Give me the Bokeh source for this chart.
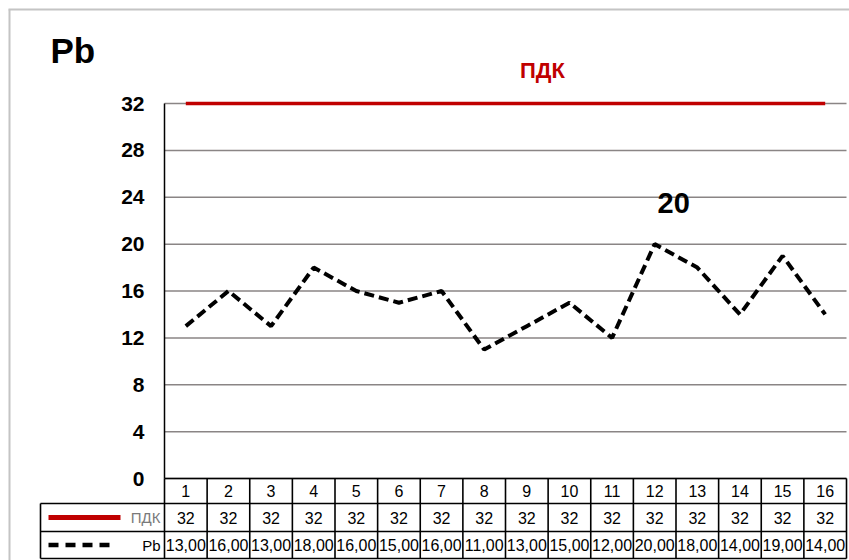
from bokeh.plotting import figure
from bokeh.models import LinearAxis, FixedTicker, Range1d
from bokeh.embed import file_html
from bokeh.resources import INLINE
from bokeh.core.properties import value

# ---- data ----
categories = list(range(1, 17))
pdk = [32] * 16
pb = [13, 16, 13, 18, 16, 15, 16, 11, 13, 15, 12, 20, 18, 14, 19, 14]
yticks = [0, 4, 8, 12, 16, 20, 24, 28, 32]
title_text = "Pb"
pdk_name = "ПДК"
pb_name = "Pb"

FONT = "Liberation Sans"
RED = "#c00000"

# ---- geometry (figure pixels, figure at page origin) ----
W, H = 849, 560
COLW = 682 / 16.0        # column width in px
UNIT = 375 / 32.0        # px per y unit
X0PX, Y0PX = 164, 478    # px of category boundary 0.5 / value 0


def px2x(px):
    return 0.5 + (px - X0PX) / COLW


def py2y(py):
    return (Y0PX - py) / UNIT


p = figure(width=W, height=H, output_backend="svg", toolbar_location=None,
           x_axis_type=None, y_axis_type=None,
           x_range=Range1d(px2x(0), px2x(W)),
           y_range=Range1d(py2y(H), py2y(0)),
           min_border_left=0, min_border_right=0,
           min_border_top=0, min_border_bottom=0)
p.outline_line_color = None
p.background_fill_color = "white"
p.border_fill_color = "white"

first = categories[0] - 0.5
last = categories[-1] + 0.5

# outer frame (top/left edges visible in the window)
p.segment(x0=[px2x(8), px2x(9)], y0=[py2y(9), py2y(9)],
          x1=[px2x(W), px2x(9)], y1=[py2y(9), py2y(H)],
          line_color="#c4c4c4", line_width=2)

# horizontal gridlines from the tick values
p.segment(x0=[first] * len(yticks), y0=yticks, x1=[last] * len(yticks),
          y1=yticks, line_color="#8a8585", line_width=1.5)

# y axis at the left edge of the plot area
yaxis = LinearAxis(ticker=FixedTicker(ticks=yticks), bounds=(0, max(yticks)),
                   fixed_location=first)
yaxis.axis_line_color = "black"
yaxis.axis_line_width = 1.5
yaxis.major_tick_out = 0
yaxis.major_tick_in = 0
yaxis.minor_tick_out = 0
yaxis.minor_tick_in = 0
yaxis.major_label_standoff = 20
yaxis.major_label_text_font = FONT
yaxis.major_label_text_font_style = "bold"
yaxis.major_label_text_font_size = "21px"
yaxis.major_label_text_color = "black"
p.add_layout(yaxis, "left")

# series
p.line(categories, pdk, line_color=RED, line_width=3.5)
p.line(categories, pb, line_color="black", line_width=4, line_dash="10 5")

# ПДК label above the limit line
p.text(x=[sum(categories) / len(categories)], y=[pdk[0]], text=[pdk_name],
       text_font=value(FONT), text_font_style="bold", text_font_size="22px",
       text_color=RED, text_align="center", text_baseline="middle",
       x_offset=37, y_offset=-33)

# max value label
imax = pb.index(max(pb))
p.text(x=[categories[imax]], y=[pb[imax]], text=[str(pb[imax])],
       text_font=value(FONT), text_font_style="bold", text_font_size="29px",
       text_color="black", text_align="center", text_baseline="middle",
       x_offset=19, y_offset=-41)

# chart title
p.text(x=[px2x(50)], y=[py2y(50)], text=[title_text],
       text_font=value(FONT), text_font_style="bold", text_font_size="35px",
       text_color="black", text_align="left", text_baseline="alphabetic")

# ---- data table ----
rows = [py2y(478), py2y(503), py2y(531), py2y(558)]
key_left = px2x(40)

p.segment(x0=[first, key_left, key_left, key_left], y0=rows,
          x1=[last] * 4, y1=rows, line_color="black", line_width=1.6)
vx = [c - 0.5 for c in categories] + [last]
p.segment(x0=vx, y0=[rows[0]] * len(vx), x1=vx, y1=[rows[-1]] * len(vx),
          line_color="black", line_width=1.6)
p.segment(x0=[key_left], y0=[rows[1]], x1=[key_left], y1=[rows[-1]],
          line_color="black", line_width=1.6)

tfont = dict(text_font=value(FONT), text_font_size="16px", text_color="black",
             text_align="center", text_baseline="middle")
mid = [(rows[i] + rows[i + 1]) / 2 for i in range(3)]
p.text(x=categories, y=[mid[0]] * 16, text=[str(c) for c in categories],
       **tfont)
p.text(x=categories, y=[mid[1]] * 16, text=[str(v) for v in pdk], **tfont)
p.text(x=categories, y=[mid[2]] * 16,
       text=[f"{v:.2f}".replace(".", ",") for v in pb], **tfont)

# legend keys in the table
p.line([px2x(48), px2x(120)], [mid[1], mid[1]], line_color=RED, line_width=5)
p.line([px2x(48), px2x(114)], [mid[2], mid[2]], line_color="black",
       line_width=4.5, line_dash="10 7")
p.text(x=[px2x(160)], y=[mid[1]], text=[pdk_name], text_font=value(FONT),
       text_font_size="15px", text_color="#7a7a7a", text_align="right",
       text_baseline="middle")
p.text(x=[px2x(160)], y=[mid[2]], text=[pb_name], text_font=value(FONT),
       text_font_size="15px", text_color="black", text_align="right",
       text_baseline="middle")

open("out.html", "w").write(file_html(p, INLINE))
